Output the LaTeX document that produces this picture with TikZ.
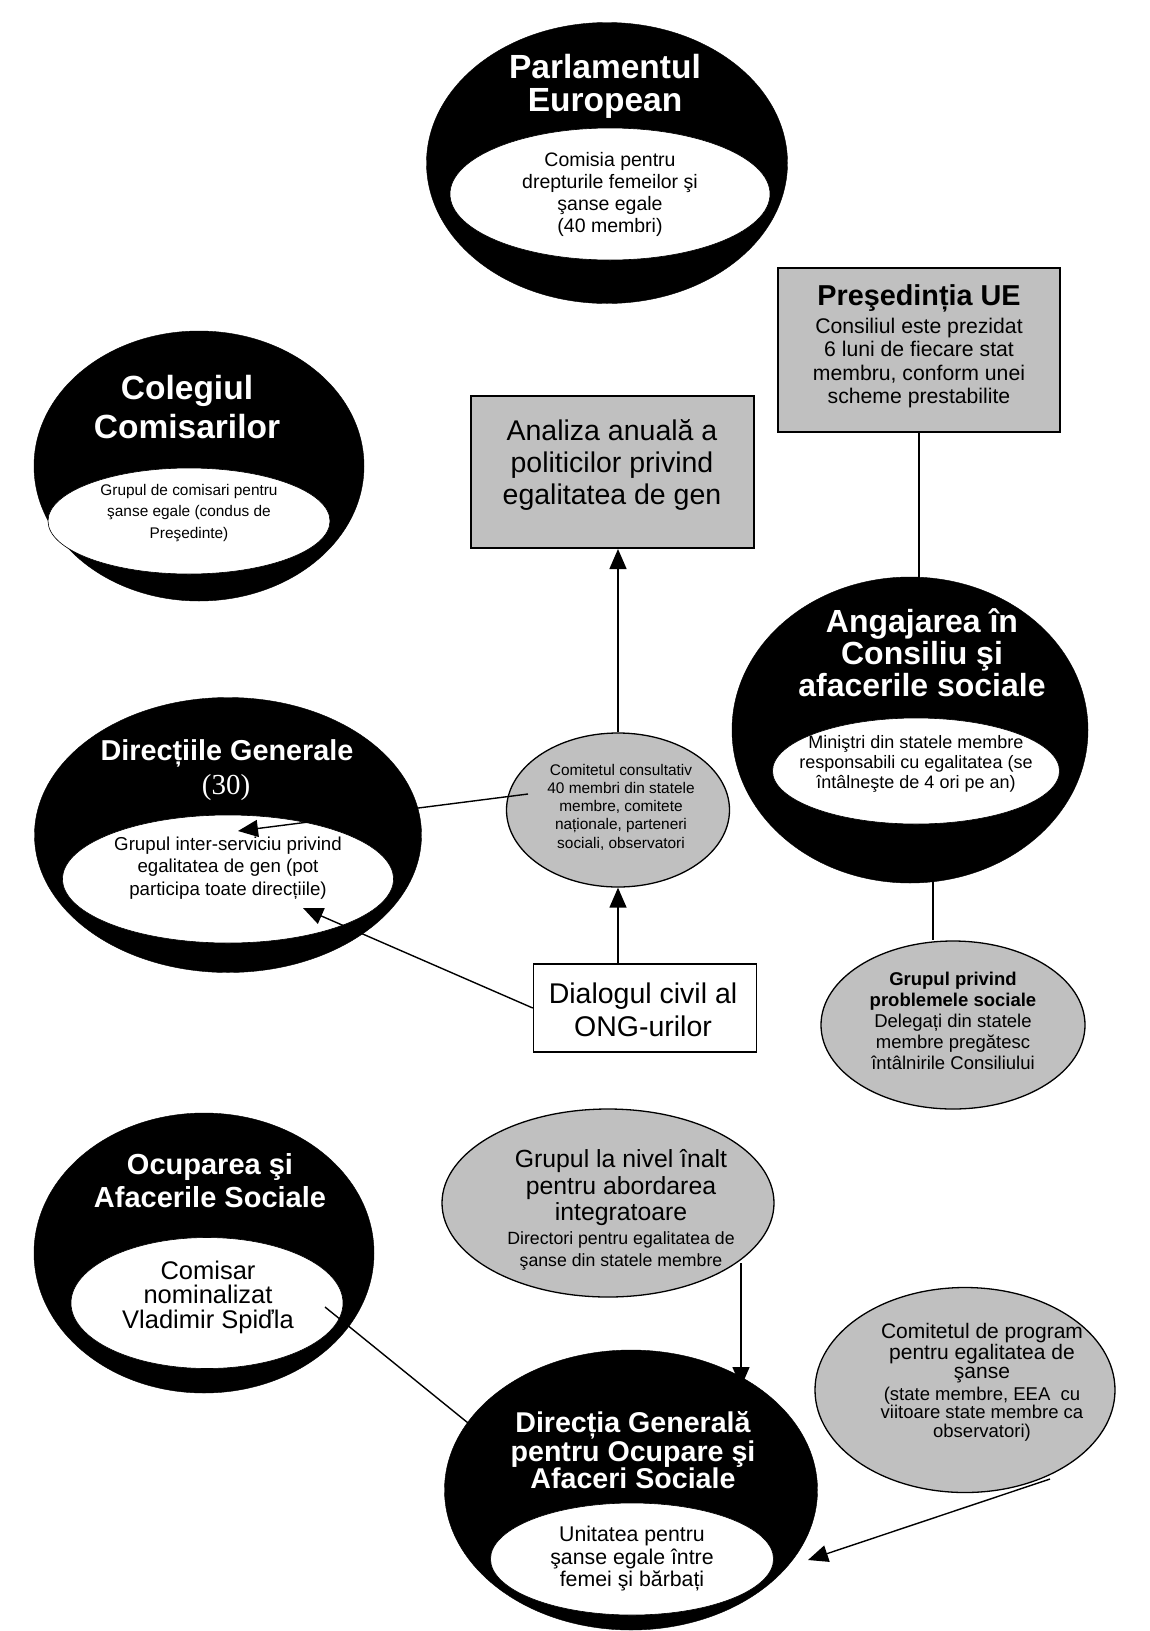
\documentclass[tikz,border=0pt]{standalone}
\usepackage{fontspec}
\setmainfont{Liberation Sans}
\newfontfamily\serifnum{Liberation Serif}
\usetikzlibrary{shapes.geometric,arrows.meta}

\definecolor{panelgrey}{RGB}{192,192,192}
\newcommand{\setfs}[2]{\fontsize{#1}{#2}\selectfont}

\tikzstyle{blackoval}=[ellipse,draw=black,fill=black,inner sep=0pt]
\tikzstyle{whiteoval}=[ellipse,draw=black,line width=0.6pt,fill=white,inner sep=0pt]
\tikzstyle{greyoval}=[ellipse,draw=black,line width=1.3pt,fill=panelgrey,inner sep=0pt]
\tikzstyle{greybox}=[rectangle,draw=black,line width=2pt,fill=panelgrey,inner sep=0pt]
\tikzstyle{plainbox}=[rectangle,draw=black,line width=1.5pt,fill=white,inner sep=0pt]
\tikzstyle{title}=[text=white,align=center,inner sep=0pt]
\tikzstyle{body}=[text=black,align=center,inner sep=0pt]
\tikzstyle{link}=[draw=black,line width=1.4pt]
\tikzstyle{arr}=[link,-{Triangle[length=20pt,width=17pt]}]

\begin{document}
\begin{tikzpicture}[x=1pt,y=-1pt]

   \fill[white] (0,0) rectangle (1150,1631);
   \useasboundingbox (0,0) rectangle (1150,1631);

   % Parlamentul European

   \node[blackoval,minimum width=361pt,minimum height=281pt] (parl) at (607,163) {};
   \node[whiteoval,minimum width=320pt,minimum height=132pt] (parlin) at (610,194) {};
   \node[title,font=\setfs{33.5}{33}\bfseries] (parltitle) at (605,86) {Parlamentul\\European};
   \node[body,font=\setfs{19.5}{22}] (parltext) at (610,194)
      {Comisia pentru\\drepturile femeilor şi\\şanse egale\\(40 membri)};

   % Colegiul Comisarilor

   \node[blackoval,minimum width=330pt,minimum height=270pt] (coleg) at (199,466) {};
   \node[whiteoval,minimum width=282pt,minimum height=106pt] (colegin) at (189,521) {};
   \node[title,font=\setfs{33.5}{39}\bfseries] (colegtitle) at (187,407) {Colegiul\\Comisarilor};
   \node[body,font=\setfs{15.4}{21.5}] (colegtext) at (189,513)
      {Grupul de comisari pentru\\şanse egale (condus de\\Preşedinte)};

   % Presedintia UE

   \node[greybox,minimum width=282pt,minimum height=164pt] (pres) at (919,350) {};
   \node[body,font=\setfs{28.8}{30}\bfseries] (prestitle) at (919,298) {Preşedinția UE};
   \node[body,font=\setfs{21.2}{23.5}] (prestext) at (919,363)
      {Consiliul este prezidat\\6 luni de fiecare stat\\membru, conform unei\\scheme prestabilite};

   % Analiza anuala

   \node[greybox,minimum width=283pt,minimum height=152pt] (anal) at (612,472) {};
   \node[body,font=\setfs{28.5}{32}] (analtext) at (612,465)
      {Analiza anuală a\\politicilor privind\\egalitatea de gen};

   % Angajarea in Consiliu

   \node[blackoval,minimum width=356pt,minimum height=306pt] (angaj) at (910,730) {};
   \node[whiteoval,minimum width=287pt,minimum height=106pt] (angajin) at (916,771) {};
   \node[title,font=\setfs{32}{32}\bfseries] (angajtitle) at (922,653)
      {Angajarea în\\Consiliu şi\\afacerile sociale};
   \node[body,font=\setfs{18}{20}] (angajtext) at (916,764)
      {Miniştri din statele membre\\responsabili cu egalitatea (se\\întâlneşte de 4 ori pe an)};

   % Directiile Generale

   \node[blackoval,minimum width=387pt,minimum height=275pt] (direc) at (228,835) {};
   \node[whiteoval,minimum width=331pt,minimum height=128pt] (direcin) at (228,879) {};
   \node[title,font=\setfs{28.8}{30}\bfseries] (directitle) at (227,753) {Direcțiile Generale};
   \node[title,font=\setfs{29}{30}\serifnum] (direcnum) at (226,788) {(30)};
   \node[body,font=\setfs{18.7}{22.5}] (directext) at (228,868)
      {Grupul inter-serviciu privind\\egalitatea de gen (pot\\participa toate direcțiile)};

   % Comitetul consultativ

   \node[greyoval,minimum width=223pt,minimum height=154pt] (consult) at (618,810) {};
   \node[body,font=\setfs{15.4}{18.3}] (consulttext) at (621,807)
      {Comitetul consultativ\\40 membri din statele\\membre, comitete\\naționale, parteneri\\sociali, observatori};

   % Dialogul civil

   \node[plainbox,minimum width=223pt,minimum height=88pt] (dialog) at (645,1008) {};
   \node[body,font=\setfs{28.5}{33}] (dialogtext) at (643,1010) {Dialogul civil al\\ONG-urilor};

   % Grupul privind problemele sociale

   \node[greyoval,minimum width=264pt,minimum height=168pt] (grprob) at (953,1025) {};
   \node[body,font=\setfs{18.5}{21}] (grprobtext) at (953,1021)
      {\textbf{Grupul privind}\\\textbf{problemele sociale}\\Delegați din statele\\membre pregătesc\\întâlnirile Consiliului};

   % Ocuparea si Afacerile Sociale

   \node[blackoval,minimum width=340pt,minimum height=280pt] (ocup) at (204,1253) {};
   \node[whiteoval,minimum width=272pt,minimum height=131pt] (ocupin) at (207,1303) {};
   \node[title,font=\setfs{29}{33}\bfseries] (ocuptitle) at (210,1181) {Ocuparea şi\\Afacerile Sociale};
   \node[body,font=\setfs{25.5}{24.5}] (ocuptext) at (208,1297)
      {Comisar\\nominalizat\\Vladimir Spiďla};

   % Grupul la nivel inalt

   \node[greyoval,minimum width=332pt,minimum height=188pt] (grinalt) at (608,1203) {};
   \node[body,font=\setfs{24.8}{26.5}] (grinalttext) at (621,1188)
      {Grupul la nivel înalt\\pentru abordarea\\integratoare};
   \node[body,font=\setfs{17.7}{22}] (grinaltsub) at (621,1251)
      {Directori pentru egalitatea de\\şanse din statele membre};

   % Comitetul de program

   \node[greyoval,minimum width=300pt,minimum height=205pt] (comprog) at (965,1390) {};
   \node[body,font=\setfs{21}{19}] (comprogtext) at (982,1353)
      {Comitetul de program\\pentru egalitatea de\\şanse};
   \node[body,font=\setfs{18.5}{18.5}] (comprogsub) at (982,1414)
      {(state membre, EEA\ \ cu\\viitoare state membre ca\\observatori)};

   % Directia Generala pentru Ocupare

   \node[blackoval,minimum width=373pt,minimum height=280pt] (dgoc) at (631,1490) {};
   \node[whiteoval,minimum width=283pt,minimum height=112pt] (dgocin) at (632,1559) {};
   \node[title,font=\setfs{28.6}{27}\bfseries] (dgoctitle) at (633,1450)
      {Direcția Generală\\pentru Ocupare şi\\Afaceri Sociale};
   \node[body,font=\setfs{21.3}{22.5}] (dgoctext) at (632,1559)
      {Unitatea pentru\\şanse egale între\\femei şi bărbați};

   % Connectors

   \coordinate (cs1) at (528,794);
   \coordinate (dg1) at (238,831);
   \coordinate (dg2) at (303,908);
   \coordinate (an1) at (933,881);
   \coordinate (gi1) at (741,1263);
   \coordinate (dc1) at (741,1387);
   \coordinate (oc1) at (325,1307);
   \coordinate (dc2) at (473,1427);
   \coordinate (cp1) at (1050,1479);
   \coordinate (dc3) at (808,1560);

   \draw[arr] (consult.north) -- (consult.north |- anal.south);
   \draw[arr] (dialog.north -| consult.south) -- (consult.south);
   \draw[arr] (cs1) -- (dg1);
   \draw[arr] (dialog.west) -- (dg2);
   \draw[link] (pres.south) -- (pres.south |- angaj.north);
   \draw[link] (an1) -- (an1 |- grprob.north);
   \draw[arr] (gi1) -- (dc1);
   \draw[link] (oc1) -- (dc2);
   \draw[arr] (cp1) -- (dc3);

\end{tikzpicture}
\end{document}
